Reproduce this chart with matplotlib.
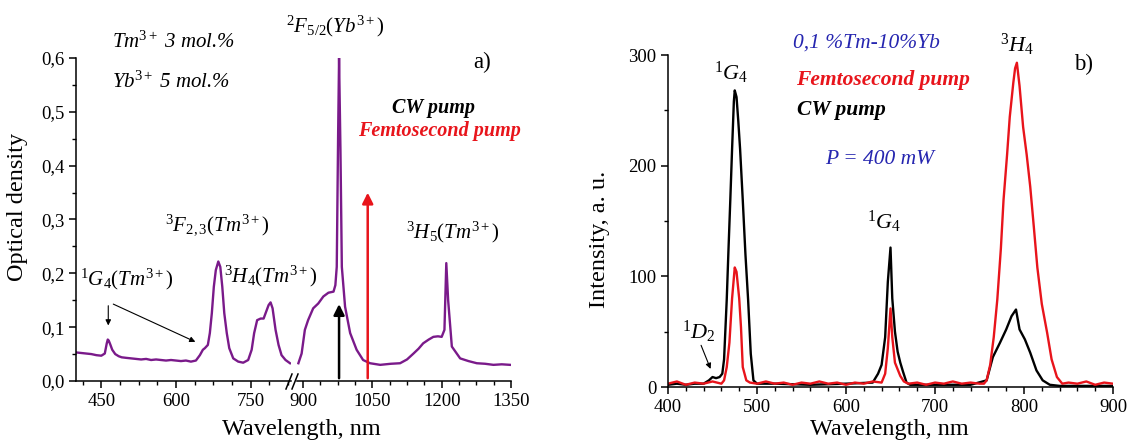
import matplotlib
matplotlib.use("Agg")
import matplotlib.pyplot as plt
from matplotlib.ticker import MultipleLocator, FuncFormatter
from matplotlib.lines import Line2D

plt.rcParams['font.family'] = 'Liberation Serif'
plt.rcParams['mathtext.fontset'] = 'custom'
plt.rcParams['mathtext.rm'] = 'Liberation Serif'
plt.rcParams['mathtext.it'] = 'Liberation Serif:italic'
plt.rcParams['mathtext.bf'] = 'Liberation Serif:bold'

# panel a) absorption, two pieces of a broken wavelength axis
wl_a = [400, 410, 420, 430, 440, 450, 457, 461, 463, 465, 468, 472, 478, 485, 491,
        500, 510, 520, 530, 540, 550, 560, 570, 580, 590, 600, 610, 620, 630, 640,
        648, 654, 658, 664, 668, 672, 676, 680, 685, 689, 693, 697, 702, 707, 715,
        725, 735, 745, 752, 757, 763, 770, 776, 780, 786, 790, 794, 800, 806, 812,
        820, 829]
od_a = [0.053, 0.052, 0.051, 0.050, 0.048, 0.047, 0.051, 0.070, 0.077, 0.075, 0.068, 0.058, 0.050, 0.046, 0.044,
        0.043, 0.042, 0.041, 0.040, 0.041, 0.039, 0.040, 0.039, 0.038, 0.039, 0.038, 0.037, 0.038, 0.036, 0.038,
        0.048, 0.058, 0.061, 0.067, 0.089, 0.126, 0.175, 0.206, 0.222, 0.212, 0.175, 0.126, 0.089, 0.061, 0.042,
        0.036, 0.034, 0.039, 0.058, 0.089, 0.113, 0.116, 0.116, 0.126, 0.141, 0.146, 0.135, 0.095, 0.067, 0.048,
        0.039, 0.033]

wl_b = [890, 897, 904, 911, 922, 933, 944, 955, 966, 970, 973, 976, 978, 981, 984,
        991, 1002, 1016, 1030, 1045, 1067, 1090, 1110, 1125, 1139, 1150, 1160, 1172, 1182, 1192,
        1200, 1206, 1210, 1214, 1222, 1240, 1258, 1276, 1294, 1312, 1330, 1348]
od_b = [0.033, 0.051, 0.095, 0.113, 0.135, 0.144, 0.157, 0.164, 0.166, 0.178, 0.212, 0.46, 0.6, 0.43, 0.212,
        0.138, 0.089, 0.058, 0.039, 0.033, 0.030, 0.032, 0.033, 0.040, 0.051, 0.060, 0.070, 0.077, 0.082, 0.083,
        0.082, 0.095, 0.219, 0.150, 0.064, 0.042, 0.037, 0.033, 0.032, 0.030, 0.031, 0.030]

cw_line = 978
fs_line = 1040
cw_top = 0.148
fs_top = 0.355

# panel b) luminescence
cw_wl = [400, 410, 420, 430, 440, 446, 450, 454, 458, 461, 463, 466, 468, 470, 472,
         474, 475, 477, 479, 481, 484, 487, 490, 493, 496, 500, 520, 560, 600, 630,
         636, 640, 644, 647, 650, 652, 655, 658, 661, 664, 668, 672, 700, 740, 758,
         765, 773, 780, 786, 791, 795, 801, 807, 814, 821, 829, 840, 860, 900]
cw_i = [2, 3, 2, 3, 3, 6, 9, 8, 9, 12, 25, 79, 125, 169, 215,
        258, 268, 262, 240, 215, 169, 120, 79, 30, 6, 3, 3, 2, 3, 4,
        12, 20, 45, 95, 126, 80, 50, 32, 22, 14, 4, 2, 2, 2, 6,
        27, 40, 52, 64, 70, 52, 43, 31, 15, 6, 2, 1, 1, 1]

fs_wl = [400, 410, 420, 430, 440, 450, 460, 463, 466, 469, 472, 475, 477, 480, 482,
         484, 488, 492, 500, 510, 520, 530, 540, 550, 560, 570, 580, 590, 600, 610,
         620, 630, 640, 644, 647, 650, 652, 655, 658, 661, 665, 670, 680, 690, 700,
         710, 720, 730, 740, 750, 755, 758, 762, 766, 770, 774, 777, 781, 784, 788,
         790, 792, 795, 799, 803, 807, 811, 815, 820, 826, 831, 837, 843, 850, 860,
         870, 880, 890, 900]
fs_i = [3, 5, 2, 4, 3, 5, 3, 6, 18, 40, 80, 108, 104, 80, 54,
        18, 6, 4, 3, 5, 3, 4, 2, 4, 3, 5, 3, 4, 2, 4,
        3, 5, 4, 12, 35, 71, 45, 22, 16, 10, 5, 3, 4, 2, 4,
        3, 5, 3, 4, 3, 3, 6, 20, 45, 79, 125, 169, 210, 244, 275,
        288, 293, 272, 235, 210, 181, 145, 108, 75, 49, 25, 9, 3, 4, 3,
        5, 2, 4, 3]

purple = '#7a1a8a'
red = '#e8141b'
blue = '#2626b0'
W, H = 1129, 441


def fx(px):
    return px / W


def fy(py):
    return 1 - py / H


fig = plt.figure(figsize=(W / 100, H / 100), dpi=100)

ax1 = fig.add_axes([fx(76.4), fy(381), (291 - 76.4) / W, 323 / H])
ax2 = fig.add_axes([fx(297), fy(381), (511 - 297) / W, 323 / H], sharey=ax1)
ax3 = fig.add_axes([fx(668), fy(387), 445 / W, 332 / H])

ax1.plot(wl_a, od_a, color=purple, lw=1.7)
ax2.plot(wl_b, od_b, color=purple, lw=1.7)
ax1.set_xlim(400, 831)
ax2.set_xlim(887, 1350)
ax1.set_ylim(0, 0.6)

ax2.annotate('', xy=(cw_line, cw_top), xytext=(cw_line, 0),
             arrowprops=dict(arrowstyle='-|>', color='black', lw=1.8, mutation_scale=16))
ax2.annotate('', xy=(fs_line, fs_top), xytext=(fs_line, 0),
             arrowprops=dict(arrowstyle='-|>', color=red, lw=1.8, mutation_scale=16))
ax1.annotate('', xy=(464, 0.098), xytext=(464, 0.145),
             arrowprops=dict(arrowstyle='-|>', color='black', lw=0.8, mutation_scale=8))
ax1.annotate('', xy=(644, 0.0706), xytext=(469, 0.145),
             arrowprops=dict(arrowstyle='-|>', color='black', lw=0.8, mutation_scale=8))

for s in ['top', 'right']:
    ax1.spines[s].set_visible(False)
    ax3.spines[s].set_visible(False)
for s in ['top', 'right', 'left']:
    ax2.spines[s].set_visible(False)

for ax in (ax1, ax2, ax3):
    for s in ax.spines.values():
        s.set_linewidth(1.1)
    ax.tick_params(which='major', direction='out', length=5, width=1.1, labelsize=13.5)
    ax.tick_params(which='minor', direction='out', length=3, width=1.0)
    ax.patch.set_alpha(0)

ax2.tick_params(axis='y', which='both', left=False, labelleft=False)
ax1.xaxis.set_major_locator(MultipleLocator(150))
ax1.xaxis.set_minor_locator(MultipleLocator(37.5))
ax2.xaxis.set_major_locator(MultipleLocator(150))
ax2.xaxis.set_minor_locator(MultipleLocator(37.5))
ax1.yaxis.set_major_locator(MultipleLocator(0.1))
ax1.yaxis.set_minor_locator(MultipleLocator(0.05))
ax1.yaxis.set_major_formatter(FuncFormatter(lambda v, p: f"{v:.1f}".replace('.', ',')))

# break marks on the x axis
for x0 in (286, 292):
    fig.add_artist(Line2D([fx(x0), fx(x0 + 6)], [fy(389), fy(374)],
                          transform=fig.transFigure, color='black', lw=1.1))

ax3.plot(cw_wl, cw_i, color='black', lw=1.7)
ax3.plot(fs_wl, fs_i, color=red, lw=1.7)
ax3.set_xlim(400, 900)
ax3.set_ylim(0, 300)
ax3.xaxis.set_major_locator(MultipleLocator(100))
ax3.xaxis.set_minor_locator(MultipleLocator(20))
ax3.yaxis.set_major_locator(MultipleLocator(100))
ax3.yaxis.set_minor_locator(MultipleLocator(50))
ax3.annotate('', xy=(449, 14), xytext=(436, 40),
             arrowprops=dict(arrowstyle='-|>', color='black', lw=0.8, mutation_scale=8))

# axis labels
fig.text(fx(301), fy(429), 'Wavelength, nm', ha='center', va='center', fontsize=17.5)
fig.text(fx(889), fy(429), 'Wavelength, nm', ha='center', va='center', fontsize=17.5)
fig.text(fx(18), fy(207), 'Optical density', ha='center', va='center', rotation=90, fontsize=17.5)
fig.text(fx(600), fy(239), 'Intensity, a. u.', ha='center', va='center', rotation=90, fontsize=17.5)

# panel a) annotations
fig.text(fx(112), fy(42), r'Tm$^{\mathit{3+}}$ 3 mol.%', ha='left', va='center', fontsize=15, style='italic')
fig.text(fx(112), fy(82), r'Yb$^{\mathit{3+}}$ 5 mol.%', ha='left', va='center', fontsize=15, style='italic')
fig.text(fx(335), fy(26), r'$^{2}F_{5/2}(Yb^{3+})$', ha='center', va='center', fontsize=15)
fig.text(fx(482), fy(62), 'a)', ha='center', va='center', fontsize=16.5)
fig.text(fx(434), fy(108), 'CW pump', ha='center', va='center', fontsize=14.5,
         style='italic', weight='bold', color='black')
fig.text(fx(439), fy(131), 'Femtosecond pump', ha='center', va='center', fontsize=14.5,
         style='italic', weight='bold', color=red)
fig.text(fx(217), fy(225), r'$^{3}F_{2,3}(Tm^{3+})$', ha='center', va='center', fontsize=15)
fig.text(fx(271), fy(276), r'$^{3}H_{4}(Tm^{3+})$', ha='center', va='center', fontsize=15)
fig.text(fx(127), fy(279), r'$^{1}G_{4}(Tm^{3+})$', ha='center', va='center', fontsize=15)
fig.text(fx(453), fy(232), r'$^{3}H_{5}(Tm^{3+})$', ha='center', va='center', fontsize=15)

# panel b) annotations
fig.text(fx(866), fy(43), '0,1 %Tm-10%Yb', ha='center', va='center', fontsize=15.5,
         style='italic', color=blue)
fig.text(fx(883), fy(80), 'Femtosecond pump', ha='center', va='center', fontsize=15.5,
         style='italic', weight='bold', color=red)
fig.text(fx(841), fy(110), 'CW pump', ha='center', va='center', fontsize=15.5,
         style='italic', weight='bold', color='black')
fig.text(fx(880), fy(160), 'P = 400 mW', ha='center', va='center', fontsize=15.5,
         style='italic', color=blue)
fig.text(fx(1084), fy(64), 'b)', ha='center', va='center', fontsize=16.5)
fig.text(fx(731), fy(73), r'$^{1}G_{4}$', ha='center', va='center', fontsize=16)
fig.text(fx(884), fy(222), r'$^{1}G_{4}$', ha='center', va='center', fontsize=16)
fig.text(fx(1017), fy(45), r'$^{3}H_{4}$', ha='center', va='center', fontsize=16)
fig.text(fx(699), fy(332), r'$^{1}D_{2}$', ha='center', va='center', fontsize=16)

fig.savefig('out.png', dpi=100)
